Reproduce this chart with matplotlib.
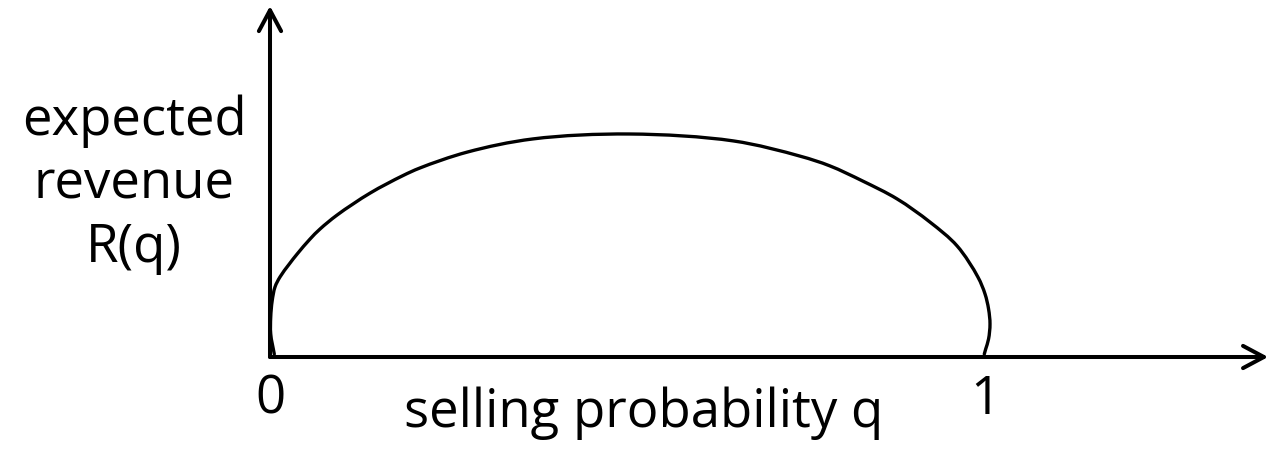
import numpy as np
import matplotlib
matplotlib.use("Agg")
import matplotlib.pyplot as plt
from matplotlib.path import Path
from matplotlib.patches import PathPatch

# Curve: selling probability q vs expected revenue R(q) (peak = 1)
q_vals = [0.006, 0.001, 0.001, 0.003, 0.007, 0.014, 0.027, 0.038, 0.056, 0.070,
          0.094, 0.140, 0.185, 0.210, 0.276, 0.368, 0.503, 0.648, 0.741, 0.783,
          0.829, 0.877, 0.923, 0.961, 0.990, 1.000, 1.005, 1.007, 1.005, 1.001,
          0.999]
r_vals = [0.013, 0.103, 0.179, 0.251, 0.314, 0.359, 0.417, 0.462, 0.529, 0.574,
          0.637, 0.735, 0.812, 0.848, 0.919, 0.978, 1.000, 0.969, 0.901, 0.857,
          0.789, 0.709, 0.605, 0.498, 0.359, 0.283, 0.215, 0.148, 0.081, 0.036,
          0.013]
tick_positions = [0, 1]
tick_labels = ["0", "1"]
x_label = "selling probability q"
y_label_lines = ["expected", "revenue", "R(q)"]

FONT = ["Open Sans", "DejaVu Sans"]
plt.rcParams['font.family'] = FONT

fig = plt.figure(figsize=(12.70, 4.56), dpi=100)
ax = fig.add_axes([0, 0, 1, 1])
ax.set_xlim(-270 / 715, 1000 / 715)
ax.set_ylim(-98 / 223, 358 / 223)
ax.axis('off')

# Smooth curve through the read points (centripetal Catmull-Rom -> cubic Bezier)
pts = np.column_stack([q_vals, r_vals])
sc = np.array([715.0, 223.0])  # display aspect
P = pts * sc
n = len(P)
d = np.sqrt(np.linalg.norm(np.diff(P, axis=0), axis=1))
t = np.concatenate([[0], np.cumsum(d)])
tang = np.zeros_like(P)
for i in range(n):
    if i == 0:
        tang[i] = (P[1] - P[0]) / (t[1] - t[0])
    elif i == n - 1:
        tang[i] = (P[-1] - P[-2]) / (t[-1] - t[-2])
    else:
        t0, t1, t2 = t[i - 1], t[i], t[i + 1]
        tang[i] = ((P[i] - P[i - 1]) / (t1 - t0) - (P[i + 1] - P[i - 1]) / (t2 - t0)
                   + (P[i + 1] - P[i]) / (t2 - t1))
verts = [P[0]]
codes = [Path.MOVETO]
for i in range(n - 1):
    h = t[i + 1] - t[i]
    verts += [P[i] + tang[i] * h / 3, P[i + 1] - tang[i + 1] * h / 3, P[i + 1]]
    codes += [Path.CURVE4] * 3
verts = np.array(verts) / sc
ax.add_patch(PathPatch(Path(verts, codes), fill=False, lw=2.4, ec='black',
                       capstyle='round', joinstyle='round'))

# Axes with open arrowheads
arrow_kw = dict(arrowstyle='->,head_length=0.75,head_width=0.4', lw=2.9,
                color='black', mutation_scale=20, capstyle='round',
                shrinkA=0, shrinkB=0)
ax.annotate('', xy=(0, 1.574), xytext=(0, 0), arrowprops=arrow_kw)
ax.annotate('', xy=(1.396, 0), xytext=(0, 0), arrowprops=arrow_kw)

fs = 38
for tp, tl in zip(tick_positions, tick_labels):
    ax.text(tp, -0.188, tl, ha='center', va='center', fontsize=fs)

ax.text(0.522, -0.309, x_label, ha='center', va='baseline', fontsize=fs)

baselines = [(358 - 135) / 223, (358 - 198) / 223, (358 - 262) / 223]
for line, b in zip(y_label_lines, baselines):
    ax.text(-0.190, b, line, ha='center', va='baseline', fontsize=fs)

fig.savefig("out.png", dpi=100, facecolor='white')
